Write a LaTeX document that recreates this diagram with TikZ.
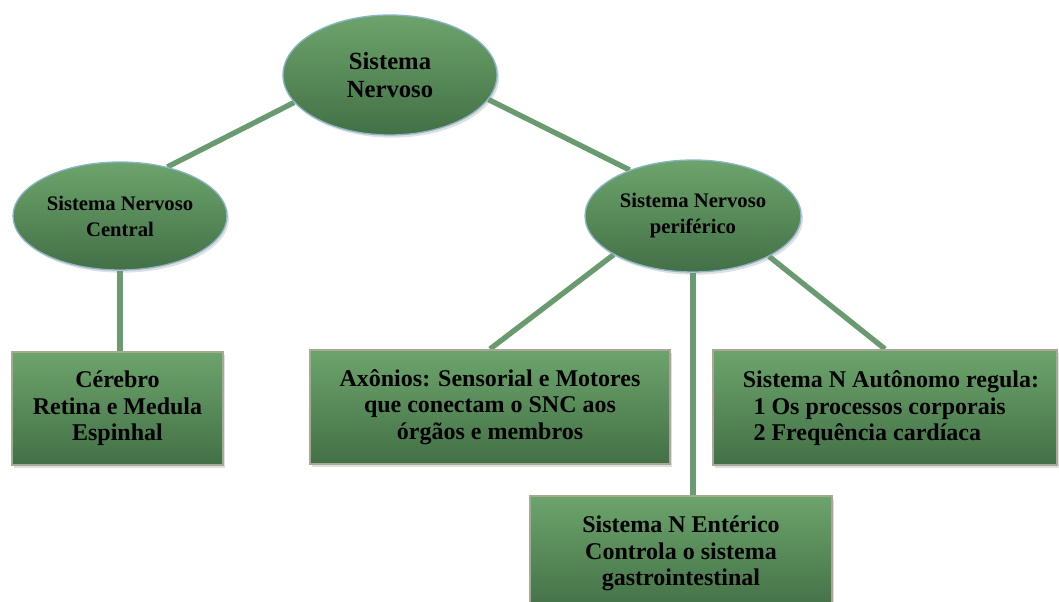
\documentclass[tikz,border=0pt]{standalone}
\usepackage{fontspec}
\setmainfont{Liberation Serif}
\usetikzlibrary{shapes.geometric,shadows,backgrounds}

\definecolor{gtop}{RGB}{108,164,108}
\definecolor{gbot}{RGB}{67,112,70}
\definecolor{linkgreen}{RGB}{106,155,112}
\definecolor{boxrim}{RGB}{168,168,150}
\definecolor{ovalrim}{RGB}{140,180,200}

\tikzset{
  oval/.style = {ellipse, draw = ovalrim, line width = 1pt, top color = gtop, bottom color = gbot,
    inner sep = 0pt, align = center,
    drop shadow = {shadow xshift = 1.5pt, shadow yshift = -2pt, opacity = 0.25}},
  box/.style = {rectangle, draw = boxrim, line width = 1.5pt, top color = gtop, bottom color = gbot,
    inner sep = 0pt, align = center, font = \fontsize{18}{20}\selectfont\bfseries,
    drop shadow = {shadow xshift = 1.5pt, shadow yshift = -2pt, opacity = 0.25}},
  link/.style = {draw = linkgreen, line width = 4pt}
}

\begin{document}
\begin{tikzpicture}[x = 0.75pt, y = -0.75pt]
    \useasboundingbox (0,0) rectangle (1059,602);
    % ellipses
    \node (sn) at (390,75) [oval, minimum width = 160.5pt, minimum height = 90pt,
        font = \fontsize{18.5}{21}\selectfont\bfseries] {Sistema\\Nervoso};
    \node (cns) at (120,216) [oval, minimum width = 160.5pt, minimum height = 81pt,
        font = \fontsize{15.5}{19.5}\selectfont\bfseries] {Sistema Nervoso\\Central};
    \node (pns) at (693,216) [oval, minimum width = 162pt, minimum height = 84pt,
        font = \fontsize{15.5}{19.5}\selectfont\bfseries] {Sistema Nervoso\\periférico};
    % boxes
    \node (cbox) at (117.5,408.5) [box, minimum width = 158.25pt, minimum height = 84.75pt]
        {Cérebro\\Retina e Medula\\Espinhal};
    \node (axbox) at (490,407) [box, minimum width = 270pt, minimum height = 85.5pt]
        {Axônios: Sensorial e Motores\\que conectam o SNC aos\\órgãos e membros};
    \node (anbox) at (885,407.5) [box, minimum width = 258pt, minimum height = 86.25pt] {};
    \node (antxt) at ([xshift = 4.5pt, yshift = -0.5pt]anbox.center)
        [align = left, inner sep = 0pt, font = \fontsize{18}{20}\selectfont\bfseries]
        {Sistema N Autônomo regula:\\\hspace*{8pt}1 Os processos corporais\\\hspace*{8pt}2 Frequência cardíaca};
    \node (enbox) at (681,553.5) [box, minimum width = 226.5pt, minimum height = 86.25pt]
        {Sistema N Entérico\\Controla o sistema\\gastrointestinal};
    % links
    \begin{scope}[on background layer]
        \draw [link] (sn.196) -- (cns.46);
        \draw [link] (sn.346) -- (pns.144);
        \draw [link] (cns.south) -- (cns.south |- cbox.north);
        \draw [link] (pns.206) -- (axbox.north);
        \draw [link] (pns.south) -- (pns.south |- enbox.north);
        \draw [link] (pns.332) -- (anbox.north);
    \end{scope}
\end{tikzpicture}
\end{document}
